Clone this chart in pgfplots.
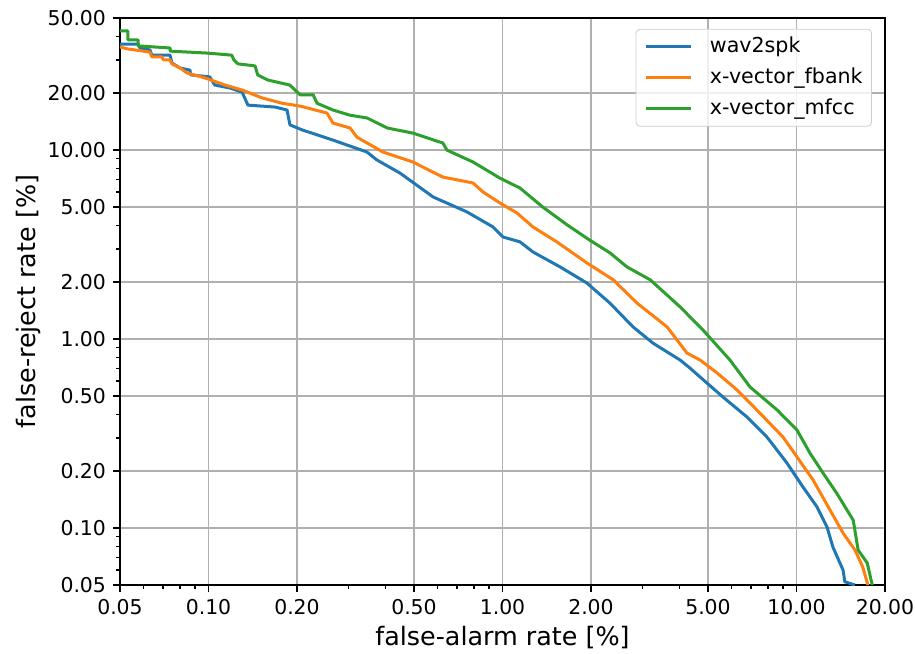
\documentclass[border=0pt]{standalone}
\usepackage{fontspec}
\setmainfont{DejaVu Sans}
\usepackage{pgfplots}
\pgfplotsset{compat=1.18}
\definecolor{tabblue}{HTML}{1F77B4}
\definecolor{taborange}{HTML}{FF7F0E}
\definecolor{tabgreen}{HTML}{2CA02C}
\definecolor{gridgray}{HTML}{B0B0B0}
\definecolor{legframe}{HTML}{CCCCCC}

\begin{document}
\begin{tikzpicture}
\begin{axis}[
  xmode=log, ymode=log,
  scale only axis,
  width=382.5pt, height=283.5pt,
  xmin=0.05, xmax=20, ymin=0.05, ymax=50,
  xtick={0.05,0.1,0.2,0.5,1,2,5,10,20},
  xticklabels={0.05,0.10,0.20,0.50,1.00,2.00,5.00,10.00,20.00},
  minor xtick={0.06,0.07,0.08,0.09,0.3,0.4,0.6,0.7,0.8,0.9,3,4,6,7,8,9},
  ytick={0.05,0.1,0.2,0.5,1,2,5,10,20,50},
  yticklabels={0.05,0.10,0.20,0.50,1.00,2.00,5.00,10.00,20.00,50.00},
  minor ytick={0.06,0.07,0.08,0.09,0.3,0.4,0.6,0.7,0.8,0.9,3,4,6,7,8,9,30,40},
  grid=major,
  major grid style={gridgray, line width=0.8pt},
  axis line style={black, line width=0.8pt},
  tick align=outside,
  xtick pos=bottom, ytick pos=left,
  major tick length=3.5pt, minor tick length=2pt,
  major tick style={black, line width=0.8pt},
  minor tick style={black, line width=0.6pt},
  tick label style={font=\fontsize{10.2}{12}\selectfont},
  xlabel={false-alarm rate [\%]},
  ylabel={false-reject rate [\%]},
  label style={font=\fontsize{12.7}{15}\selectfont},
  xlabel style={at={(axis description cs:0.5,-0.092)}, anchor=center},
  ylabel style={at={(axis description cs:-0.12,0.5)}, anchor=center},
  legend style={at={(0.983,0.981)}, anchor=north east,
    draw=legframe, rounded corners=2pt, fill=white, fill opacity=0.8, text opacity=1,
    font=\fontsize{10.3}{12}\selectfont,
    inner xsep=4.5pt, inner ysep=3.5pt, row sep=5pt, column sep=8.5pt,
    nodes={inner sep=0pt, text height=8pt, text depth=2.5pt}},
  legend cell align=left,
  legend image code/.code={\draw[#1] (0pt,0pt) -- (22.5pt,0pt);},
  every axis plot/.append style={line width=1.5pt, line join=round, mark=none},
]
\coordinate (sw) at (rel axis cs:0,0);

% wav2spk
\addplot[tabblue] coordinates {
(0.05,36.4) (0.0576,36.4) (0.0585,34.7) (0.0632,33.9) (0.0642,31.8) (0.074,31.8)
(0.0751,28.9) (0.080,27.2) (0.0865,26.5) (0.0870,25.0) (0.101,24.4) (0.105,22.1)
(0.1184,21.3) (0.130,20.3) (0.1362,17.3) (0.1684,16.9) (0.185,16.3) (0.1893,13.6)
(0.208,12.8) (0.265,11.3) (0.346,9.77) (0.374,8.87) (0.448,7.56) (0.581,5.65)
(0.757,4.71) (0.929,3.92) (1.004,3.47) (1.147,3.27) (1.270,2.89) (1.570,2.41)
(1.937,1.98) (2.32,1.55) (2.78,1.16) (3.25,0.952) (4.02,0.775) (4.34,0.703)
(4.70,0.630) (5.62,0.494) (6.79,0.387) (7.94,0.303) (9.28,0.221) (10.52,0.165)
(11.74,0.1295) (12.7,0.1014) (13.3,0.0794) (14.4,0.060) (14.6,0.052) (15.8,0.05)
};
\addlegendentry{wav2spk}

% x-vector_fbank
\addplot[taborange] coordinates {
(0.05,35.1) (0.0532,34.3) (0.0632,33.0) (0.0642,31.1) (0.0695,31.1) (0.0702,30.0)
(0.074,30.0) (0.0751,28.6) (0.080,27.2) (0.0845,25.6) (0.0973,24.1) (0.1138,22.1)
(0.130,20.8) (0.152,18.9) (0.178,17.7) (0.205,17.1) (0.253,15.7) (0.265,13.9)
(0.303,13.1) (0.320,11.7) (0.392,9.77) (0.496,8.65) (0.627,7.20) (0.794,6.70)
(0.859,6.00) (0.980,5.25) (1.12,4.65) (1.270,3.92) (1.53,3.27) (1.937,2.53)
(2.38,2.06) (2.87,1.55) (3.63,1.16) (4.24,0.844) (4.70,0.775) (5.37,0.662)
(6.28,0.538) (7.51,0.406) (9.00,0.303) (10.04,0.238) (11.38,0.180) (13.0,0.1247)
(14.4,0.0942) (15.8,0.0766) (16.8,0.0623) (17.5,0.05)
};
\addlegendentry{x-vector\_fbank}

% x-vector_mfcc
\addplot[tabgreen] coordinates {
(0.05,42.7) (0.0532,42.7) (0.0532,38.3) (0.0576,38.3) (0.0576,35.6) (0.074,34.7)
(0.074,33.4) (0.0996,32.6) (0.120,31.8) (0.122,30.0) (0.126,28.6) (0.144,27.9)
(0.147,25.0) (0.159,23.5) (0.189,22.1) (0.205,19.6) (0.227,19.6) (0.234,17.7)
(0.265,16.3) (0.303,15.3) (0.346,14.8) (0.405,13.1) (0.496,12.3) (0.627,10.9)
(0.647,10.0) (0.794,8.65) (0.980,7.11) (1.147,6.30) (1.37,5.00) (1.66,4.02)
(1.98,3.34) (2.32,2.86) (2.65,2.41) (3.18,2.06) (4.02,1.48) (4.81,1.116)
(5.94,0.775) (6.95,0.558) (8.59,0.422) (10.04,0.330) (11.1,0.250) (12.3,0.196)
(13.7,0.153) (15.6,0.110) (16.2,0.0766) (17.4,0.0654) (18.1,0.05)
};
\addlegendentry{x-vector\_mfcc}
\end{axis}
\pgfresetboundingbox
\path (sw) ++(-60pt,-34pt) rectangle ++(457.5pt,326.5pt);
\end{tikzpicture}
\end{document}
